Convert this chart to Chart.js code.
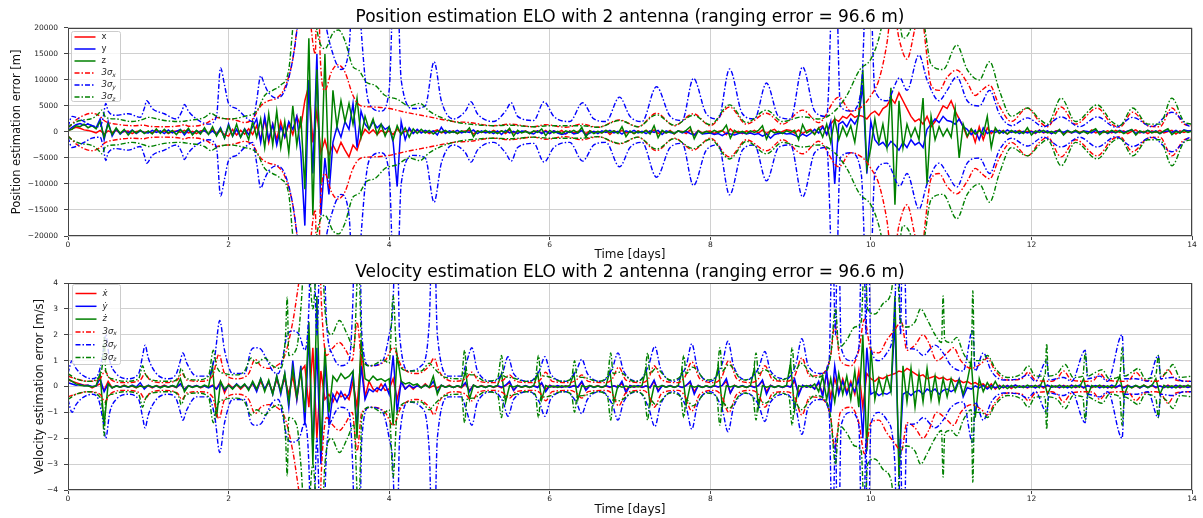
<!DOCTYPE html>
<html>
<head>
<meta charset="utf-8">
<script src="https://cdn.jsdelivr.net/npm/chart.js@4.4.1/dist/chart.umd.min.js"></script>
<style>
html, body { margin: 0; padding: 0; background: #fff; }
#wrap { position: relative; width: 1203px; height: 518px; }
.panel { position: absolute; left: 0; width: 1203px; }
#pos { top: 0; height: 262px; }
#vel { top: 262px; height: 256px; }
</style>
</head>
<body>
<div id="wrap">
  <div class="panel" id="pos"><canvas id="posChart"></canvas></div>
  <div class="panel" id="vel"><canvas id="velChart"></canvas></div>
</div>
<script>
// Filter errors are logged every ERR_STEP days starting at t = 0.
var ERR_STEP = 0.05;

// ---- Position errors [m], one row per day ----
var posErrX = [
  200, 600, 900, 700, 400, 300, 100, -200, 300, -400, 200, -100, 300, -200, 100, 200, -300, 100, 200, -100,
  100, -200, 300, -100, 200, -300, 100, 200, -100, 300, -200, 100, -300, 200, 300, -400, 500, -300, 200, -500,
  -800, 500, -600, 300, -400, 600, -500, 1200, -1500, 2500, -2000, 1500, -1500, 2000, -1000, 1500, -500, 3000, 1000, 6000,
  9000, -2000, 4000, -4000, -1500, -4500, -2500, -4000, -2000, -3500, -4800, -2500, -3500, -1000, 500, -300, 400, -500, 300, -200,
  200, -500, 600, -300, 100, 400, -200, 300, -100, 200, -300, 100, 400, -200, 100, -100, 200, -300, 100, 200,
  300, -400, 200, -100, 100, -200, 300, -100, 200, -300, 400, -200, 100, -100, 200, -300, 100, 200, -200, 300,
  -300, 200, -100, 300, -400, 200, -200, 100, 300, -300, 200, -100, 100, -200, 300, -500, 200, -100, 300, -200,
  100, -300, 200, -100, 300, -200, 400, -300, 100, -200, 300, -400, 200, 100, -300, 400, -600, 300, -200, 100,
  200, -300, 100, 300, -500, 600, -200, 100, -300, 200, -100, 300, -200, 400, -300, 200, 500, -300, 100, 400,
  300, -200, 400, -300, 200, 500, -400, 800, 1200, -500, 1500, 2500, 2000, 3000, 2600, 3500, 2800, 3200, 3000, 2500,
  3500, 4000, 3200, 4500, 5000, 6500, 5500, 7500, 6000, 4500, 3000, 2000, 2500, 1500, 3000, 1000, 2000, 3500, 5000, 4500,
  6000, 4000, 2500, 1000, -1000, 500, -2000, 1000, -1500, 800, -300, 500, -200, 300, -400, 200, -100, 300, -200, 100,
  200, -300, 400, -200, 100, -300, 200, 300, -400, 100, -200, 300, -100, 200, -300, 400, -200, 100, -100, 200,
  -200, 300, -100, 200, -300, 100, 400, -200, 100, -300, 200, -100, 300, -200, 100, 300, -400, 200, -100, 200,
  100
];
var posErrY = [
  300, 900, 1400, 1600, 1300, 1500, 1200, 800, 2500, -1500, 2000, -800, 600, -400, 300, -200, 400, -300, 200, -100,
  -200, 300, -100, 200, -300, 400, -200, 100, 500, -600, 400, -300, 200, -100, 300, -400, 200, -500, 800, -1200,
  1500, -800, 500, -1000, 600, -500, 1000, 2500, -2000, 3000, -1500, 1500, -2500, 1000, -1000, 2000, 500, 3000, -4000, -18000,
  10000, -8000, 15000, -16000, -5000, -12000, -2000, 1000, -1000, 2000, 500, 5500, -3000, 4000, 1500, 500, 2000, 800, 1500, 500,
  1000, -2000, -10500, 2000, -1500, 800, -300, 500, -200, 300, -100, 200, -600, 900, -300, 200, -100, 300, -200, 100,
  -100, 400, -300, 200, -200, 100, -300, 200, -500, 300, -200, 100, -300, 200, 100, -200, -400, 200, -300, 100,
  -300, 200, -200, -500, -300, 100, -400, -200, 300, -600, -200, 100, -300, 200, -100, 300, -200, 100, -400, 200,
  -100, 300, -200, 100, -300, 200, -100, 300, -500, 200, -100, -300, 200, -200, 100, -300, -600, 200, -400, -300,
  -200, -500, -300, -700, -200, -400, -600, -300, -100, -400, -200, -500, -300, -800, -400, -1200, -500, -300, -200, -400,
  -300, -600, -1000, -400, -800, -300, 500, -200, 1000, -500, 2000, -10000, 1500, 2000, 1000, 2500, 1500, 3000, 9000, -8000,
  2000, -1500, -2500, -2000, -3000, -1800, -2500, -3500, -2000, -3000, -1500, -2500, -2000, -3000, 500, 1500, 2500, 1800, 3000, 2200,
  2000, 1500, 2500, 1000, 500, -500, 300, -1500, 800, -300, 200, -100, 300, -200, 400, -100, 200, -300, 100, -200,
  100, -200, 300, -100, 200, -300, 100, 200, -100, 300, -200, 100, -300, 200, 100, -200, 300, -100, 200, -300,
  100, -200, 300, -100, 200, 400, -300, 100, -200, 300, -100, 200, -300, 100, 200, -100, 300, -200, 400, 200,
  300
];
var posErrZ = [
  300, 500, 1200, 1000, 1500, 800, 1200, 600, 2000, -1000, 1500, -500, 800, -300, 500, -600, 300, -200, 400, -300,
  200, -400, 600, -300, 500, -200, 300, -500, 400, -200, 700, -600, 300, -400, 800, -500, 1000, -800, 600, -1200,
  1200, -800, 1500, -1000, 500, -1500, 2000, -1000, 2500, -3000, 3500, -2500, 4000, -3000, 2000, -4000, 5000, -2500, 3000, -11000,
  18000, -16000, 12000, -10000, 15000, -9000, 8000, 1000, 6000, 2000, 5500, 1500, 6500, -1000, 3000, 500, 2500, -500, 1500, -800,
  1000, -1500, 1200, -500, 800, -1000, 600, -300, 500, -200, 300, -400, 200, -100, 300, -200, 100, -300, 200, -100,
  800, -900, 200, -100, 300, -200, 100, -300, 200, -100, 700, -800, 300, -200, 100, -300, 200, -100, 600, -700,
  300, -200, 100, -300, 200, -100, 300, -200, 900, -1000, 200, -300, 100, -200, 300, -100, 200, -300, 1000, -900,
  200, -300, 100, -200, 300, -400, 1200, -1100, 300, -200, 100, -300, 200, -100, 300, 1000, -1300, 200, -300, 100,
  -200, 300, -100, 200, 1300, -1200, 300, -200, 100, -300, 200, -100, 300, 1200, -1400, 300, -200, 100, -300, 200,
  -100, 300, -1500, 1400, -200, 300, -500, 800, -1000, 1500, -2000, 2500, -1500, 1000, -800, 1200, -2000, 3500, 12000, -7000,
  -3000, 2500, -2000, 1500, -3000, 8500, -14000, 6000, -3000, 1500, -1000, 800, -1500, 6500, -10000, 3000, -1500, 1000, -800, 600,
  -1000, 4500, -5000, 1500, -800, 600, -400, 300, -500, 3000, -3000, 800, -300, 200, -400, 300, -200, 100, -300, 800,
  -600, 200, -100, 300, -200, 100, -300, 500, -600, 200, -100, 300, -200, 100, -300, 200, 600, -500, 100, -200,
  300, -100, 200, -300, 100, 500, -600, 200, -100, 300, -200, 100, -300, 200, 600, -500, 100, -200, 300, -100,
  200
];

// ---- Position 3-sigma bounds [m], [day, value] ----
var pos3SigX = [
  [0, 800], [0.05, 1500], [0.1, 2300], [0.2, 3200], [0.3, 3600], [0.4, 3000], [0.45, 2200], [0.5, 1800], [0.6, 1500],
  [0.8, 1200], [0.95, 1300], [1.0, 1100], [1.2, 1000], [1.4, 1200], [1.45, 1400], [1.5, 1100], [1.7, 1500], [1.8, 2400],
  [1.85, 2800], [1.9, 2600], [2.0, 2500], [2.1, 2200], [2.2, 1800], [2.3, 2500], [2.4, 5000], [2.5, 6000], [2.6, 6500],
  [2.7, 8500], [2.8, 14000], [2.87, 22000], [2.95, 30000], [3.0, 24000], [3.08, 15000], [3.11, 40000], [3.14, 15000],
  [3.2, 8000], [3.28, 11500], [3.36, 12900], [3.45, 11500], [3.55, 7000], [3.65, 5000], [3.8, 4800], [4.0, 4500],
  [4.2, 3800], [4.5, 2900], [4.8, 2000], [5.0, 1800], [5.3, 1200], [5.5, 1500], [5.8, 1000], [5.95, 1400], [6.2, 900],
  [6.4, 1500], [6.6, 900], [6.87, 2300], [7.1, 1000], [7.33, 3600], [7.55, 1200], [7.79, 3500], [8.0, 1200], [8.24, 4800],
  [8.45, 1500], [8.7, 3600], [8.9, 1500], [9.15, 4200], [9.35, 1800], [9.6, 6700], [9.75, 4000], [9.9, 5000], [10.0, 7000],
  [10.1, 10000], [10.2, 17000], [10.27, 25000], [10.35, 18000], [10.45, 14000], [10.55, 20000], [10.62, 25000],
  [10.68, 17000], [10.75, 9000], [10.85, 8000], [10.95, 10500], [11.07, 11900], [11.2, 9500], [11.3, 7000], [11.38, 8000],
  [11.48, 9000], [11.6, 5000], [11.75, 2000], [11.95, 4600], [12.1, 2000], [12.2, 1000], [12.37, 4800], [12.55, 1500],
  [12.82, 4600], [13.0, 1500], [13.1, 900], [13.26, 3800], [13.45, 1200], [13.6, 1000], [13.75, 4600], [13.9, 1500], [14, 1200]
];
var pos3SigY = [
  [0, 1000], [0.05, 3000], [0.1, 2800], [0.2, 2000], [0.3, 1200], [0.4, 1000], [0.44, 3000], [0.47, 5500], [0.5, 4000],
  [0.6, 3200], [0.75, 3500], [0.9, 2800], [0.95, 4500], [0.98, 6000], [1.05, 4500], [1.2, 3500], [1.35, 2500], [1.42, 4000],
  [1.45, 5300], [1.5, 4000], [1.65, 2000], [1.75, 1500], [1.85, 3000], [1.9, 12300], [1.95, 9000], [2.0, 5500], [2.1, 4500],
  [2.2, 3000], [2.3, 2000], [2.35, 6000], [2.4, 10800], [2.45, 9000], [2.5, 7500], [2.6, 6500], [2.7, 8000], [2.8, 14000],
  [2.87, 22000], [2.92, 30000], [2.98, 26000], [3.05, 20000], [3.1, 35000], [3.15, 30000], [3.2, 22000], [3.3, 15000],
  [3.4, 12000], [3.5, 16000], [3.58, 40000], [3.65, 20000], [3.75, 5500], [3.9, 4000], [4.0, 8000], [4.08, 40000],
  [4.15, 10000], [4.3, 4500], [4.45, 5000], [4.56, 13500], [4.65, 6000], [4.8, 2500], [4.95, 4000], [5.02, 5800],
  [5.1, 3500], [5.3, 2000], [5.45, 4000], [5.52, 5600], [5.6, 3000], [5.8, 2200], [5.93, 5800], [6.05, 3000], [6.25, 2000],
  [6.41, 5600], [6.55, 2500], [6.7, 2000], [6.87, 6700], [7.0, 3000], [7.15, 2000], [7.33, 8700], [7.5, 3000], [7.65, 2200],
  [7.79, 10300], [7.95, 3500], [8.1, 2500], [8.24, 12100], [8.4, 3500], [8.55, 2500], [8.7, 9400], [8.85, 3000], [9.0, 2500],
  [9.15, 12500], [9.3, 4000], [9.45, 3000], [9.55, 40000], [9.62, 5000], [9.75, 4000], [9.88, 8000], [9.97, 40000],
  [10.05, 8000], [10.2, 6000], [10.36, 10400], [10.45, 8000], [10.6, 14800], [10.7, 10000], [10.85, 6000], [10.95, 8000],
  [11.07, 10600], [11.2, 6000], [11.35, 5000], [11.48, 8000], [11.6, 3500], [11.75, 1200], [11.95, 2700], [12.15, 1000],
  [12.37, 2900], [12.6, 1000], [12.82, 2900], [13.05, 900], [13.26, 2800], [13.5, 1000], [13.75, 3800], [13.95, 1200], [14, 1000]
];
var pos3SigZ = [
  [0, 800], [0.05, 1500], [0.15, 2200], [0.3, 2600], [0.38, 3500], [0.42, 4200], [0.47, 2800], [0.6, 2500], [0.8, 2000],
  [0.95, 2500], [1.0, 2800], [1.2, 2200], [1.4, 2000], [1.5, 2200], [1.7, 2800], [1.78, 3600], [1.85, 3000], [2.0, 2500],
  [2.2, 3000], [2.35, 4000], [2.45, 7000], [2.55, 8000], [2.65, 9000], [2.75, 12000], [2.8, 20000], [2.88, 30000],
  [2.96, 20000], [3.02, 35000], [3.08, 22000], [3.2, 16000], [3.3, 19000], [3.37, 19600], [3.45, 17500], [3.55, 12500],
  [3.62, 11900], [3.72, 9500], [3.82, 9000], [3.95, 7000], [4.1, 6300], [4.25, 5000], [4.38, 5500], [4.5, 4000],
  [4.63, 2900], [4.8, 2000], [5.0, 1500], [5.3, 1200], [5.5, 1300], [5.8, 1000], [6.0, 1200], [6.4, 1200], [6.6, 900],
  [6.87, 2200], [7.1, 1000], [7.33, 3300], [7.55, 1300], [7.79, 3200], [8.0, 1400], [8.24, 5200], [8.45, 1800], [8.7, 4200],
  [8.9, 2000], [9.15, 2900], [9.35, 2500], [9.55, 4000], [9.7, 7000], [9.86, 11900], [10.0, 14000], [10.1, 18000],
  [10.2, 25000], [10.3, 28000], [10.4, 18000], [10.5, 20000], [10.58, 26000], [10.66, 21000], [10.75, 13000], [10.9, 12000],
  [11.07, 16700], [11.2, 12000], [11.35, 10000], [11.48, 13500], [11.6, 8000], [11.75, 3000], [11.95, 4600], [12.1, 2500],
  [12.2, 1500], [12.37, 6500], [12.55, 2000], [12.82, 5200], [13.0, 2000], [13.1, 1200], [13.26, 4600], [13.45, 1500],
  [13.6, 1500], [13.75, 6500], [13.9, 2000], [14, 1500]
];

// ---- Velocity errors [m/s], one row per day ----
var velErrX = [
  0.25, 0.2, 0.15, 0.1, 0.05, 0.05, -0.05, 0.03, 0.1, -0.15, 0.2, -0.05, 0.03, -0.02, 0.05, -0.03, 0.02, -0.05, 0.04, -0.02,
  0.03, -0.05, 0.04, -0.02, 0.05, -0.03, 0.02, -0.04, 0.1, -0.1, 0.03, -0.02, 0.04, -0.05, 0.02, -0.03, 0.05, -0.1, 0.2, -0.25,
  0.1, -0.05, 0.08, -0.1, 0.05, -0.08, 0.1, -0.15, 0.2, -0.1, 0.15, -0.2, 0.25, -0.15, 0.3, -0.3, 0.4, -0.5, 0.6, 0.8,
  -0.8, 1.5, -2.0, 0.6, -0.5, -0.3, -0.6, -0.2, -0.4, -0.3, -0.5, 0.2, -0.8, 1.2, -0.4, 0.2, -0.1, -0.2, 0.1, -0.15,
  -0.1, 0.3, -0.5, 0.2, -0.1, 0.05, -0.1, 0.05, -0.05, 0.1, -0.05, 0.03, -0.05, 0.04, -0.03, 0.05, -0.04, 0.02, -0.05, 0.1,
  -0.15, 0.05, -0.03, 0.04, -0.02, 0.03, -0.04, 0.02, -0.05, 0.03, 0.15, -0.15, 0.04, -0.03, 0.02, -0.04, 0.03, -0.02, 0.1, -0.12,
  0.05, -0.03, 0.02, -0.04, 0.03, -0.02, 0.04, -0.03, 0.15, -0.12, 0.03, -0.02, 0.04, -0.03, 0.02, -0.04, 0.03, -0.02, 0.12, -0.15,
  0.04, -0.03, 0.02, -0.04, 0.03, -0.05, 0.2, -0.15, 0.03, -0.02, 0.04, -0.03, 0.02, -0.04, 0.05, 0.15, -0.2, 0.04, -0.03, 0.02,
  -0.04, 0.03, -0.02, 0.04, 0.2, -0.25, 0.05, -0.03, 0.02, -0.04, 0.03, -0.02, 0.04, 0.2, -0.2, 0.05, -0.03, 0.02, -0.04, 0.03,
  -0.02, 0.2, -0.25, 0.04, -0.03, 0.05, -0.1, 0.15, -0.3, 0.5, -0.4, 0.3, -0.2, 0.3, -0.2, 0.2, -0.3, 0.6, -0.8, 0.5,
  0.3, 0.2, 0.35, 0.3, 0.4, 0.45, 0.5, 0.6, 0.55, 0.7, 0.6, 0.5, 0.4, 0.45, 0.3, 0.35, 0.4, 0.3, 0.35, 0.25,
  0.3, 0.2, 0.25, 0.15, 0.2, 0.1, 0.15, 0.05, 0.1, -0.05, 0.1, -0.1, 0.05, -0.05, 0.04, -0.08, 0.05, -0.03, 0.02, -0.05,
  0.03, -0.04, 0.05, -0.06, 0.04, -0.03, 0.02, -0.05, 0.04, -0.03, 0.05, -0.04, 0.03, -0.06, 0.05, -0.04, 0.03, -0.02, 0.04, -0.05,
  0.03, -0.05, 0.04, -0.03, 0.05, -0.04, 0.03, -0.06, 0.05, -0.03, 0.04, -0.05, 0.03, -0.04, 0.05, -0.03, 0.04, -0.05, 0.03, -0.04,
  0.03
];
var velErrY = [
  0.15, 0.1, 0.05, 0.08, 0.03, 0.05, 0.0, 0.02, 0.3, -0.2, 0.1, -0.05, 0.03, -0.02, 0.02, -0.03, 0.05, -0.02, 0.15, -0.1,
  0.05, -0.03, 0.02, -0.04, 0.03, -0.02, 0.04, -0.03, 0.1, -0.12, 0.03, -0.02, 0.04, -0.03, 0.02, -0.05, 0.03, -0.1, 0.15, -0.15,
  0.05, -0.08, 0.1, -0.05, 0.08, -0.1, 0.15, -0.2, 0.3, -0.1, 0.2, -0.3, 0.4, -0.3, 0.5, -0.8, 1.0, -0.5, 0.8, -1.5,
  2.0, -2.5, 1.5, -3.0, 1.0, -1.5, -0.3, -0.6, -0.2, -0.5, -0.3, 0.5, -1.6, 0.8, -0.5, -0.1, -0.2, -0.05, -0.15, 0.1,
  -0.3, 1.2, -1.0, 0.2, -0.1, 0.05, -0.05, 0.03, -0.04, 0.05, -0.03, 0.2, -0.2, 0.05, -0.03, 0.02, -0.04, 0.03, -0.02, 0.15,
  -0.2, 0.05, -0.03, 0.02, -0.04, 0.03, -0.02, 0.04, -0.03, 0.05, 0.2, -0.15, 0.03, -0.02, 0.04, -0.03, 0.02, -0.04, 0.15, -0.2,
  0.03, -0.02, 0.04, -0.03, 0.02, -0.04, 0.03, -0.02, 0.2, -0.15, 0.03, -0.04, 0.02, -0.03, 0.04, -0.02, 0.03, -0.04, 0.2, -0.25,
  0.03, -0.02, 0.04, -0.03, 0.02, -0.04, 0.25, -0.2, 0.03, -0.02, 0.04, -0.03, 0.02, -0.04, 0.03, 0.2, -0.3, 0.04, -0.03, 0.02,
  -0.04, 0.03, -0.02, 0.04, 0.3, -0.25, 0.03, -0.02, 0.04, -0.03, 0.02, -0.04, 0.03, 0.25, -0.3, 0.04, -0.03, 0.02, -0.04, 0.03,
  -0.02, 0.3, -0.35, 0.05, -0.03, 0.04, -0.1, 0.2, -0.4, 0.6, -1.0, 0.8, -0.3, 0.2, -0.3, 0.1, -0.2, 0.3, -2.0, 1.5,
  -0.3, -0.2, -0.35, -0.25, -0.3, -0.2, 2.5, -3.0, -0.3, -0.2, -0.35, -0.2, -0.15, -0.3, -0.1, -0.2, -0.1, -0.3, -0.15, -0.1,
  -0.2, -0.1, 0.3, -0.4, -0.05, -0.1, 0.02, -0.05, 0.04, -0.1, 0.03, -0.05, 0.02, -0.04, 0.03, -0.02, 0.05, -0.03, 0.02, -0.04,
  0.03, -0.05, 0.04, -0.02, 0.05, -0.03, 0.02, -0.04, 0.03, -0.05, 0.04, -0.03, 0.05, -0.04, 0.03, -0.02, 0.04, -0.05, 0.03, -0.04,
  0.05, -0.03, 0.04, -0.05, 0.03, -0.02, 0.04, -0.05, 0.03, -0.04, 0.05, -0.03, 0.02, -0.04, 0.03, -0.05, 0.04, -0.03, 0.02, -0.04,
  0.02
];
var velErrZ = [
  0.3, 0.2, 0.1, 0.05, 0.03, 0.02, -0.02, 0.03, 0.5, -1.5, 0.1, -0.05, 0.02, -0.03, 0.04, -0.02, 0.03, -0.04, 0.02, -0.03,
  0.04, -0.02, 0.03, -0.05, 0.02, -0.03, 0.04, -0.02, 0.3, -0.2, 0.03, -0.04, 0.02, -0.03, 0.05, -0.02, 0.8, -1.2, 0.2, -0.1,
  0.05, -0.1, 0.08, -0.05, 0.1, -0.15, 0.2, -0.1, 0.3, -0.2, 0.25, -0.3, 0.4, -0.2, 0.5, -0.6, 0.7, -0.4, 0.6, -1.0,
  2.5, -3.0, 3.5, -2.5, 1.5, -1.0, 0.4, 0.2, 0.5, 0.3, 0.4, 0.6, -2.0, 1.8, 0.3, 0.2, 0.4, 0.25, 0.3, 0.2,
  0.3, -1.5, 1.2, 0.2, 0.1, 0.15, 0.05, 0.1, -0.05, 0.05, -0.03, 0.4, -0.3, 0.05, -0.03, 0.02, -0.04, 0.03, -0.02, 0.6,
  -0.5, 0.05, -0.03, 0.02, -0.04, 0.03, -0.02, 0.04, 0.5, -0.6, 0.03, -0.02, 0.04, -0.03, 0.02, -0.04, 0.03, 0.5, -0.5, 0.04,
  -0.03, 0.02, -0.04, 0.03, -0.02, 0.04, 0.5, -0.5, 0.03, -0.02, 0.04, -0.03, 0.02, -0.04, 0.03, 0.6, -0.6, 0.04, -0.03, 0.02,
  -0.04, 0.03, -0.02, 0.04, 0.7, -0.7, 0.03, -0.02, 0.04, -0.03, 0.02, -0.04, 0.03, 0.6, -0.7, 0.04, -0.03, 0.02, -0.04, 0.03,
  -0.02, 0.04, 0.8, -0.8, 0.03, -0.02, 0.04, -0.03, 0.02, -0.04, 0.03, 0.7, -0.8, 0.04, -0.03, 0.02, -0.04, 0.03, -0.02, 0.04,
  0.9, -0.9, 0.03, -0.02, 0.04, -0.03, 0.1, -0.2, 0.4, -0.5, 0.3, -0.6, 0.5, -0.3, 0.4, -0.5, 0.6, -0.8, 2.0, -2.5,
  1.5, -0.5, 0.3, -0.3, 0.4, -0.2, 3.5, -3.5, 0.8, -0.6, 0.7, -0.8, 0.5, -0.6, 0.7, -0.5, 0.4, -0.6, 0.3, -0.4,
  0.3, -0.2, 0.25, -0.3, 0.2, 1.0, -1.2, 0.3, -0.2, 0.15, -0.1, 0.2, -0.1, 0.05, -0.08, 0.04, -0.05, 0.03, -0.04, 0.05,
  -0.03, 0.04, -0.05, 0.3, -0.3, 0.04, -0.03, 0.05, -0.04, 0.03, -0.05, 0.04, -0.03, 0.3, -0.35, 0.04, -0.03, 0.05, -0.04, 0.03,
  -0.05, 0.04, 0.4, -0.4, 0.03, -0.05, 0.04, -0.03, 0.05, -0.04, 0.03, 0.3, -0.3, 0.05, -0.04, 0.03, -0.05, 0.04, -0.03, 0.05,
  -0.03
];

// ---- Velocity 3-sigma bounds [m/s], [day, value] ----
var vel3SigX = [
  [0, 0.4], [0.1, 0.3], [0.25, 0.2], [0.4, 0.3], [0.46, 0.6], [0.52, 0.3], [0.7, 0.15], [0.9, 0.25], [0.96, 0.5], [1.02, 0.25],
  [1.2, 0.15], [1.36, 0.25], [1.42, 0.5], [1.48, 0.25], [1.65, 0.2], [1.8, 0.4], [1.88, 1.25], [1.95, 0.5], [2.1, 0.3],
  [2.25, 0.5], [2.33, 1.05], [2.4, 0.8], [2.5, 0.7], [2.6, 0.8], [2.7, 1.2], [2.8, 2.5], [2.9, 4.5], [3.0, 6], [3.1, 8],
  [3.16, 3], [3.22, 1.2], [3.3, 1.5], [3.38, 1.7], [3.46, 1.4], [3.54, 1.0], [3.6, 2.5], [3.66, 1.0], [3.8, 0.8], [3.95, 1.0],
  [4.05, 1.5], [4.15, 0.8], [4.35, 0.5], [4.5, 0.8], [4.56, 1.1], [4.62, 0.6], [4.8, 0.2], [4.95, 0.3], [5.03, 0.55],
  [5.12, 0.2], [5.3, 0.15], [5.42, 0.25], [5.5, 0.45], [5.58, 0.2], [5.8, 0.15], [5.88, 0.25], [5.95, 0.55], [6.03, 0.2],
  [6.25, 0.15], [6.33, 0.25], [6.4, 0.45], [6.48, 0.2], [6.7, 0.15], [6.78, 0.3], [6.86, 0.75], [6.95, 0.25], [7.15, 0.15],
  [7.23, 0.3], [7.3, 0.8], [7.4, 0.25], [7.6, 0.15], [7.68, 0.35], [7.77, 0.95], [7.87, 0.3], [8.05, 0.15], [8.14, 0.35],
  [8.23, 1.0], [8.33, 0.3], [8.5, 0.15], [8.6, 0.3], [8.68, 0.8], [8.78, 0.25], [8.95, 0.2], [9.05, 0.4], [9.14, 1.1],
  [9.24, 0.4], [9.4, 0.5], [9.5, 1.2], [9.55, 2.4], [9.62, 1.0], [9.75, 0.8], [9.85, 1.4], [9.92, 2.6], [10.0, 1.4],
  [10.1, 1.3], [10.2, 1.8], [10.3, 2.2], [10.38, 2.5], [10.45, 1.4], [10.55, 1.6], [10.65, 2.0], [10.72, 1.7], [10.82, 1.0],
  [10.95, 1.3], [11.03, 1.5], [11.12, 1.0], [11.25, 0.7], [11.38, 0.9], [11.45, 1.1], [11.55, 0.6], [11.7, 0.25], [11.88, 0.3],
  [11.96, 0.55], [12.05, 0.25], [12.25, 0.2], [12.32, 0.3], [12.4, 0.6], [12.5, 0.25], [12.7, 0.2], [12.78, 0.25], [12.85, 0.5],
  [12.94, 0.25], [13.15, 0.2], [13.22, 0.25], [13.3, 0.55], [13.4, 0.25], [13.55, 0.2], [13.62, 0.3], [13.7, 0.65], [13.8, 0.25],
  [14, 0.2]
];
var vel3SigY = [
  [0, 0.5], [0.05, 1.0], [0.1, 0.7], [0.2, 0.4], [0.3, 0.3], [0.38, 0.5], [0.44, 1.4], [0.47, 2.0], [0.52, 1.0], [0.6, 0.5],
  [0.75, 0.3], [0.88, 0.5], [0.93, 1.2], [0.96, 1.6], [1.0, 1.1], [1.1, 0.5], [1.25, 0.3], [1.35, 0.5], [1.4, 1.0], [1.43, 1.3],
  [1.48, 0.9], [1.6, 0.4], [1.75, 0.4], [1.83, 1.2], [1.89, 2.55], [1.95, 1.4], [2.05, 0.5], [2.2, 0.5], [2.28, 1.4], [2.33, 1.5],
  [2.4, 1.45], [2.45, 1.2], [2.55, 0.6], [2.62, 0.5], [2.68, 1.2], [2.73, 2.0], [2.8, 2.15], [2.88, 2.0], [2.95, 1.4], [3.0, 3],
  [3.04, 8], [3.1, 2], [3.16, 8], [3.22, 2.5], [3.3, 1.2], [3.4, 0.8], [3.5, 1.0], [3.55, 3.5], [3.58, 8], [3.62, 8], [3.66, 2],
  [3.75, 0.8], [3.9, 0.9], [4.0, 2.0], [4.05, 3.3], [4.09, 8], [4.13, 2], [4.25, 0.6], [4.4, 0.8], [4.5, 2.5], [4.55, 8],
  [4.6, 2], [4.75, 0.4], [4.9, 0.4], [4.97, 1.0], [5.03, 1.5], [5.1, 0.6], [5.3, 0.2], [5.42, 0.6], [5.48, 1.15], [5.55, 0.5],
  [5.75, 0.2], [5.87, 0.6], [5.94, 1.15], [6.01, 0.5], [6.2, 0.2], [6.33, 0.6], [6.4, 1.05], [6.47, 0.5], [6.65, 0.2],
  [6.78, 0.7], [6.85, 1.3], [6.92, 0.6], [7.1, 0.2], [7.23, 0.8], [7.31, 1.55], [7.38, 0.7], [7.55, 0.2], [7.7, 0.8],
  [7.77, 1.65], [7.84, 0.7], [8.0, 0.2], [8.15, 0.9], [8.22, 1.75], [8.29, 0.8], [8.45, 0.25], [8.6, 0.7], [8.68, 1.35],
  [8.75, 0.6], [8.95, 0.3], [9.07, 0.9], [9.14, 1.85], [9.22, 0.8], [9.38, 0.5], [9.48, 1.0], [9.52, 6], [9.56, 2], [9.59, 8],
  [9.63, 1.5], [9.75, 1.0], [9.85, 1.5], [9.9, 8], [9.94, 2], [9.96, 8], [10.0, 1.5], [10.1, 1.0], [10.2, 1.3], [10.3, 3],
  [10.33, 8], [10.37, 2], [10.4, 8], [10.45, 1.5], [10.55, 1.45], [10.65, 1.2], [10.8, 1.6], [10.9, 1.3], [11.0, 0.8],
  [11.15, 0.6], [11.27, 2.2], [11.3, 0.6], [11.4, 1.3], [11.5, 0.6], [11.65, 0.25], [11.85, 0.3], [11.95, 0.45], [12.05, 0.2],
  [12.19, 1.0], [12.22, 0.25], [12.4, 0.35], [12.5, 0.2], [12.67, 1.4], [12.7, 0.3], [12.85, 0.4], [12.95, 0.2], [13.13, 2.0],
  [13.16, 0.3], [13.3, 0.3], [13.45, 0.2], [13.58, 1.2], [13.61, 0.3], [13.75, 0.35], [13.9, 0.2], [14, 0.2]
];
var vel3SigZ = [
  [0, 0.5], [0.1, 0.3], [0.25, 0.2], [0.38, 0.35], [0.43, 0.9], [0.45, 1.9], [0.47, 0.6], [0.55, 0.3], [0.7, 0.2], [0.88, 0.3],
  [0.93, 0.8], [0.96, 0.5], [1.05, 0.25], [1.3, 0.2], [1.38, 0.4], [1.41, 0.7], [1.46, 0.35], [1.6, 0.25], [1.75, 0.4],
  [1.81, 1.4], [1.85, 0.8], [1.95, 0.5], [2.1, 0.45], [2.2, 0.6], [2.28, 1.1], [2.35, 0.9], [2.45, 1.1], [2.55, 0.8],
  [2.65, 0.7], [2.71, 2.0], [2.73, 3.45], [2.75, 1.2], [2.85, 1.5], [2.9, 3], [2.97, 6], [3.05, 3], [3.1, 5], [3.15, 6],
  [3.2, 3], [3.28, 2.0], [3.38, 2.55], [3.48, 2.0], [3.56, 1.5], [3.62, 5], [3.66, 1.2], [3.75, 0.8], [3.85, 0.9], [3.92, 1.05],
  [4.0, 0.9], [4.05, 3.5], [4.1, 1.0], [4.25, 0.6], [4.4, 0.6], [4.5, 0.9], [4.56, 0.7], [4.7, 0.35], [4.9, 0.3], [4.94, 1.4],
  [4.97, 0.5], [5.05, 0.45], [5.2, 0.2], [5.35, 0.3], [5.4, 1.2], [5.43, 0.4], [5.5, 0.35], [5.7, 0.2], [5.82, 0.3],
  [5.86, 1.2], [5.89, 0.4], [5.95, 0.4], [6.15, 0.2], [6.27, 0.3], [6.31, 1.0], [6.34, 0.4], [6.42, 0.35], [6.6, 0.2],
  [6.72, 0.4], [6.76, 1.3], [6.79, 0.5], [6.87, 0.55], [7.05, 0.2], [7.18, 0.4], [7.22, 1.3], [7.25, 0.5], [7.32, 0.7],
  [7.5, 0.25], [7.63, 0.4], [7.67, 1.2], [7.7, 0.5], [7.78, 0.75], [7.95, 0.25], [8.08, 0.4], [8.12, 1.5], [8.15, 0.6],
  [8.23, 0.85], [8.4, 0.25], [8.53, 0.4], [8.57, 1.3], [8.6, 0.5], [8.68, 0.65], [8.85, 0.25], [8.98, 0.4], [9.02, 1.5],
  [9.05, 0.6], [9.13, 0.9], [9.3, 0.35], [9.45, 0.6], [9.5, 1.2], [9.56, 3], [9.6, 1.5], [9.7, 1.8], [9.8, 2.3], [9.88, 2.5],
  [9.92, 5], [9.96, 3], [10.05, 2.8], [10.15, 3.2], [10.25, 3.6], [10.32, 5], [10.37, 2.5], [10.45, 2.3], [10.55, 2.5],
  [10.62, 3.0], [10.7, 2.6], [10.8, 2.0], [10.88, 1.7], [10.9, 3.5], [10.92, 1.8], [11.0, 1.7], [11.07, 1.9], [11.15, 1.3],
  [11.25, 0.9], [11.27, 3.7], [11.29, 1.0], [11.38, 1.0], [11.45, 1.2], [11.55, 0.7], [11.7, 0.35], [11.88, 0.5], [11.96, 0.8],
  [12.05, 0.4], [12.17, 0.4], [12.19, 1.65], [12.21, 0.4], [12.32, 0.5], [12.42, 0.85], [12.52, 0.35], [12.64, 0.4],
  [12.67, 1.3], [12.7, 0.4], [12.8, 0.55], [12.88, 0.65], [12.97, 0.3], [13.1, 0.4], [13.13, 1.5], [13.16, 0.4], [13.25, 0.55],
  [13.33, 0.7], [13.42, 0.3], [13.55, 0.45], [13.58, 1.2], [13.61, 0.4], [13.7, 0.6], [13.76, 0.85], [13.85, 0.35], [14, 0.4]
];

var posLabels = ["x", "y", "z", "3σ_x", "3σ_y", "3σ_z"];
var velLabels = ["ẋ", "ẏ", "ż", "3σ_x", "3σ_y", "3σ_z"];

var COLORS = ["#ff0000", "#0000ff", "#008000"];
var DASHDOT = [5, 2, 1.5, 2];
var FONT = "DejaVu Sans";

Chart.defaults.font.family = FONT;
Chart.defaults.animation = false;

function sampled(values) {
    return values.map(function(v, i) { return { x: i * ERR_STEP, y: v }; });
}
function bound(list, sign) {
    return list.map(function(p) { return { x: p[0], y: sign * p[1] }; });
}

function buildDatasets(errs, sigmas, labels) {
    var list = [];
    errs.forEach(function(vals, k) {
        list.push({ label: labels[k], data: sampled(vals), borderColor: COLORS[k], borderWidth: 1.5, legendRow: k });
    });
    sigmas.forEach(function(env, k) {
        list.push({ label: labels[3 + k], data: bound(env, 1), borderColor: COLORS[k], borderWidth: 1.4,
            borderDash: DASHDOT, cubicInterpolationMode: "monotone", legendRow: 3 + k });
        list.push({ label: labels[3 + k] + " (lower)", data: bound(env, -1), borderColor: COLORS[k], borderWidth: 1.4,
            borderDash: DASHDOT, cubicInterpolationMode: "monotone" });
    });
    // later series are painted over earlier ones
    list.forEach(function(ds, i) { ds.order = list.length - i; ds.pointRadius = 0; ds.fill = false; });
    return list;
}

// axes frame drawn on all four sides
var frameBox = {
    id: "frameBox",
    afterDatasetsDraw: function(chart) {
        var a = chart.chartArea, ctx = chart.ctx;
        ctx.save();
        ctx.strokeStyle = "#444"; ctx.lineWidth = 1;
        ctx.strokeRect(Math.round(a.left) + 0.5, Math.round(a.top) + 0.5, Math.round(a.right - a.left) - 1, Math.round(a.bottom - a.top) - 1);
        ctx.restore();
    }
};

function drawLegendLabel(ctx, text, x, y) {
    var parts = text.split("_");
    var italic = !/^[xyz]$/.test(parts[0]);
    ctx.fillStyle = "#222";
    ctx.textBaseline = "middle";
    ctx.font = (italic ? "italic " : "") + "8.5px " + FONT;
    ctx.fillText(parts[0], x, y);
    if (parts[1]) {
        var w = ctx.measureText(parts[0]).width;
        ctx.font = "italic 6px " + FONT;
        ctx.fillText(parts[1], x + w, y + 2);
    }
}

// legend box in the upper left corner of the axes
var boxLegend = {
    id: "boxLegend",
    afterDatasetsDraw: function(chart, args, opts) {
        var ctx = chart.ctx, a = chart.chartArea;
        var rows = chart.data.datasets.filter(function(d) { return d.legendRow !== undefined; })
            .sort(function(p, q) { return p.legendRow - q.legendRow; });
        var x0 = Math.round(a.left + opts.dx) + 0.5, y0 = Math.round(a.top + opts.dy) + 0.5;
        ctx.save();
        ctx.fillStyle = "rgba(255,255,255,0.8)";
        ctx.strokeStyle = "#cccccc"; ctx.lineWidth = 1;
        ctx.beginPath();
        if (ctx.roundRect) ctx.roundRect(x0, y0, opts.width, opts.height, 2); else ctx.rect(x0, y0, opts.width, opts.height);
        ctx.fill(); ctx.stroke();
        rows.forEach(function(d, i) {
            var cy = y0 + opts.first + opts.rowH * i;
            ctx.strokeStyle = d.borderColor; ctx.lineWidth = 1.5;
            ctx.setLineDash(d.borderDash || []);
            ctx.beginPath(); ctx.moveTo(x0 + 3, cy); ctx.lineTo(x0 + 24, cy); ctx.stroke();
            ctx.setLineDash([]);
            drawLegendLabel(ctx, d.label, x0 + 30, cy);
        });
        ctx.restore();
    }
};

function minusTick(v) { return String(v).replace("-", "\u2212"); }

function makeChart(id, cfg) {
    return new Chart(document.getElementById(id), {
        type: "line",
        data: { datasets: cfg.datasets },
        options: {
            responsive: true,
            maintainAspectRatio: false,
            layout: { padding: { left: 0, right: 11, top: 0, bottom: 0 } },
            elements: { line: { tension: 0 } },
            scales: {
                x: {
                    type: "linear", min: 0, max: 14,
                    ticks: { stepSize: 2, font: { size: 7.5 }, color: "#222", padding: 1, maxRotation: 0 },
                    grid: { color: "#d0d0d0", tickColor: "#444", tickLength: 4 },
                    border: { display: false },
                    title: { display: true, text: "Time [days]", font: { size: 12 }, color: "#111", padding: { top: 0, bottom: cfg.xTitlePad } },
                    afterFit: function(s) { s.height = cfg.xHeight; }
                },
                y: {
                    min: cfg.yMin, max: cfg.yMax,
                    ticks: { stepSize: cfg.yStep, font: { size: 7.5 }, color: "#222", padding: 6, callback: minusTick },
                    grid: { color: "#d0d0d0", tickColor: "#444", tickLength: 4 },
                    border: { display: false },
                    title: { display: true, text: cfg.yTitle, font: { size: 11.5 }, color: "#111", padding: { top: cfg.yTitlePad, bottom: 0 } },
                    afterFit: function(s) { s.width = 68; }
                }
            },
            plugins: {
                legend: { display: false },
                tooltip: { enabled: false },
                // centred over the plotting area rather than the whole canvas
                title: { display: true, fullSize: false, text: cfg.title, font: { size: 17, weight: "normal" }, color: "#000", padding: cfg.titlePad },
                boxLegend: cfg.legend
            }
        },
        plugins: [frameBox, boxLegend]
    });
}

makeChart("posChart", {
    datasets: buildDatasets([posErrX, posErrY, posErrZ], [pos3SigX, pos3SigY, pos3SigZ], posLabels),
    title: "Position estimation ELO with 2 antenna (ranging error = 96.6 m)",
    titlePad: { top: 7.5, bottom: 0 },
    yMin: -20000, yMax: 20000, yStep: 5000,
    yTitle: "Position estimation error [m]", yTitlePad: 10,
    xHeight: 26, xTitlePad: 0,
    legend: { dx: 2.5, dy: 3.5, width: 49, height: 70, first: 5.5, rowH: 12 }
});

makeChart("velChart", {
    datasets: buildDatasets([velErrX, velErrY, velErrZ], [vel3SigX, vel3SigY, vel3SigZ], velLabels),
    title: "Velocity estimation ELO with 2 antenna (ranging error = 96.6 m)",
    titlePad: { top: 0.6, bottom: 0 },
    yMin: -4, yMax: 4, yStep: 1,
    yTitle: "Velocity estimation error [m/s]", yTitlePad: 33,
    xHeight: 28, xTitlePad: 1,
    legend: { dx: 3.5, dy: 1, width: 48, height: 80, first: 9, rowH: 12.8 }
});
</script>
</body>
</html>
